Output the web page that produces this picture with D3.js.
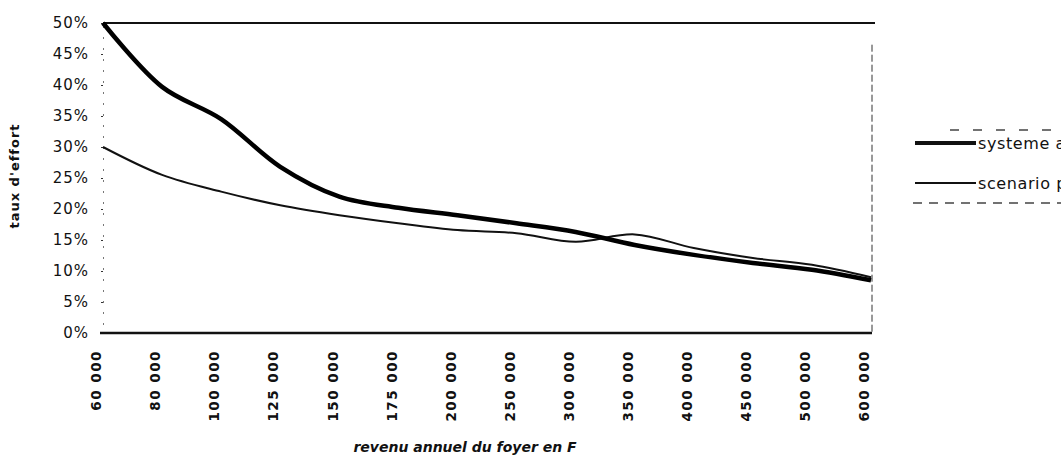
<!DOCTYPE html>
<html>
<head>
<meta charset="utf-8">
<script src="https://cdn.jsdelivr.net/npm/d3@7"></script>
<style>
  body { margin: 0; background: #fff; }
  svg { display: block; }
</style>
</head>
<body>
<div class="page-svg"></div>
<script>
// data
const categories = ['60 000', '80 000', '100 000', '125 000', '150 000', '175 000', '200 000',
                    '250 000', '300 000', '350 000', '400 000', '450 000', '500 000', '600 000']
const systemeActuel = [50, 39.7, 34.5, 26.8, 22.0, 20.2, 19.0, 17.7, 16.3, 14.2, 12.6, 11.3, 10.2, 8.5]
const scenarioPropose = [30, 25.5, 22.8, 20.6, 19.0, 17.7, 16.6, 16.1, 14.7, 15.9, 13.7, 12.1, 11.0, 9.0]
const yTicks = [0, 5, 10, 15, 20, 25, 30, 35, 40, 45, 50]
const seriesNames = ['systeme actuel', 'scenario propose']

const W = 1061, H = 459
const plot = {left: 103, right: 871, top: 23, bottom: 333}

const svg = d3.select('.page-svg').append('svg')
  .attr('width', W)
  .attr('height', H)

var x = d3.scalePoint()
  .domain(categories)
  .range([plot.left, plot.right])

var y = d3.scaleLinear()
  .domain([0, 50])
  .range([plot.bottom, plot.top])

const font = '"DejaVu Sans", sans-serif'

// y axis (faint, only the ticks survive on the scan)
var yAxis = d3.axisLeft(y)
  .tickValues(yTicks)
  .tickSize(2)
  .tickPadding(12)
  .tickFormat(d => d + '%')

svg.append('g')
  .attr('class', 'y axis')
  .attr('transform', `translate(${plot.left},0)`)
  .call(yAxis)
  .call(g => g.select('.domain')
    .attr('stroke', '#777')
    .attr('stroke-width', 1)
    .attr('stroke-dasharray', '2,9'))
  .call(g => g.selectAll('.tick line').attr('stroke', '#333'))
  .call(g => g.selectAll('.tick text')
    .attr('fill', '#111')
    .style('font-family', font)
    .style('font-size', '15px')
    .style('letter-spacing', '1px'))

// top frame line at 50%
svg.append('line')
  .attr('x1', plot.left).attr('x2', plot.right + 4)
  .attr('y1', y(50)).attr('y2', y(50))
  .attr('stroke', '#111')
  .attr('stroke-width', 2)

// right frame, dashed
svg.append('line')
  .attr('x1', plot.right + 1).attr('x2', plot.right + 1)
  .attr('y1', y(46.5)).attr('y2', y(0))
  .attr('stroke', '#333')
  .attr('stroke-width', 1)
  .attr('stroke-dasharray', '7,3')

// x axis
var xAxis = d3.axisBottom(x)
  .tickSize(0)

svg.append('g')
  .attr('class', 'x axis')
  .attr('transform', `translate(0,${plot.bottom})`)
  .call(xAxis)
  .call(g => g.select('.domain')
    .attr('d', `M${plot.left - 3},0H${plot.right + 1}`)
    .attr('stroke', '#111')
    .attr('stroke-width', 2.5))
  .call(g => g.selectAll('.tick text')
    .attr('transform', 'rotate(-90)')
    .attr('x', -17)
    .attr('y', -7)
    .attr('dy', '0.35em')
    .attr('fill', '#111')
    .style('text-anchor', 'end')
    .style('font-family', font)
    .style('font-weight', 'bold')
    .style('font-size', '13.5px')
    .style('letter-spacing', '1.5px'))

// lines
var line = d3.line()
  .x((d, i) => x(categories[i]))
  .y(d => y(d))
  .curve(d3.curveCatmullRom.alpha(0.5))

svg.append('path')
  .datum(scenarioPropose)
  .attr('d', line)
  .attr('fill', 'none')
  .attr('stroke', '#111')
  .attr('stroke-width', 2)

svg.append('path')
  .datum(systemeActuel)
  .attr('d', line)
  .attr('fill', 'none')
  .attr('stroke', '#000')
  .attr('stroke-width', 4.5)

// axis titles
svg.append('text')
  .attr('transform', 'translate(19,176) rotate(-90)')
  .attr('text-anchor', 'middle')
  .attr('fill', '#111')
  .style('font-family', font)
  .style('font-weight', 'bold')
  .style('font-size', '13px')
  .style('letter-spacing', '1px')
  .text("taux d'effort")

svg.append('text')
  .attr('x', 465)
  .attr('y', 452)
  .attr('text-anchor', 'middle')
  .attr('fill', '#111')
  .style('font-family', font)
  .style('font-weight', 'bold')
  .style('font-style', 'italic')
  .style('font-size', '14px')
  .text('revenu annuel du foyer en F')

// legend (cut by the right edge like the scan)
var legend = svg.append('g')
legend.append('line')
  .attr('x1', 950).attr('x2', W).attr('y1', 130).attr('y2', 130)
  .attr('stroke', '#444').attr('stroke-width', 1.5).attr('stroke-dasharray', '9,14')
legend.append('line')
  .attr('x1', 913).attr('x2', W).attr('y1', 203).attr('y2', 203)
  .attr('stroke', '#444').attr('stroke-width', 1.5).attr('stroke-dasharray', '9,7')

var item = legend.selectAll('g.item')
  .data(seriesNames)
  .join('g')
    .attr('class', 'item')
    .attr('transform', (d, i) => `translate(915,${143 + i * 40})`)

item.append('line')
  .attr('x1', 0).attr('x2', 61)
  .attr('stroke', '#111')
  .attr('stroke-width', (d, i) => i == 0 ? 4 : 1.8)

item.append('text')
  .attr('x', 63)
  .attr('dy', '0.35em')
  .attr('fill', '#111')
  .style('font-family', font)
  .style('font-size', '16px')
  .style('letter-spacing', '0.6px')
  .text(d => d)
</script>
</body>
</html>
